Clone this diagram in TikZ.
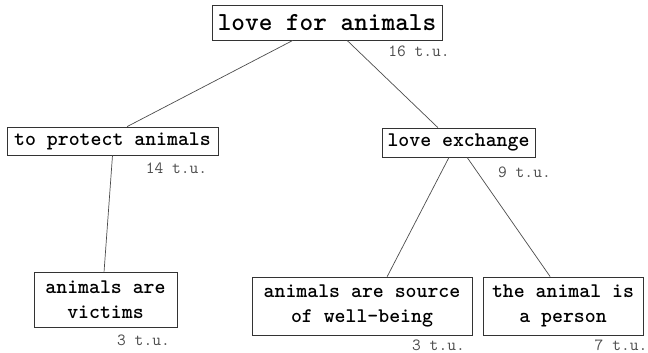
\documentclass[tikz,border=0pt]{standalone}
\usetikzlibrary{calc}
\begin{document}
\begin{tikzpicture}[x=1pt, y=-1pt,
  box/.style={draw=black!80, line width=0.8pt, inner sep=0pt, align=center,
              font=\ttfamily\bfseries\fontsize{20.8}{25}\selectfont},
  tu/.style={text=black!70, inner sep=0pt, font=\ttfamily\fontsize{17}{18}\selectfont},
  link/.style={draw=black!70, line width=0.7pt}]
\useasboundingbox (0,0) rectangle (648,353);

% concept boxes
\node[box, minimum width=230pt, minimum height=35pt,
      font=\ttfamily\bfseries\fontsize{26}{30}\selectfont] (root) at (327,22.5) {love for animals};
\node[box, minimum width=211pt, minimum height=28pt] (protect) at (112.5,141) {to protect animals};
\node[box, minimum width=153pt, minimum height=29pt] (exchange) at (458.5,142.5) {love exchange};
\node[box, minimum width=143pt, minimum height=55pt] (victims) at (105.5,299.5) {animals are\\victims};
\node[box, minimum width=220pt, minimum height=58pt] (source) at (362,306) {animals are source\\of well-being};
\node[box, minimum width=160pt, minimum height=58pt] (person) at (563,306) {the animal is\\a person};

% time units
\node[tu] (t16) at (419,51) {16 t.u.};
\node[tu] (t14) at (176.5,168) {14 t.u.};
\node[tu] (t9) at (524.5,172) {9 t.u.};
\node[tu] (t3a) at (143.5,340) {3 t.u.};
\node[tu] (t3b) at (438.5,345) {3 t.u.};
\node[tu] (t7) at (621,345) {7 t.u.};

% tree links
\draw[link] ($(root.south west)!0.352!(root.south east)$) -- ($(protect.north west)!0.569!(protect.north east)$);
\draw[link] ($(root.south west)!0.587!(root.south east)$) -- ($(exchange.north west)!0.366!(exchange.north east)$);
\draw[link] ($(protect.south west)!0.5!(protect.south east)$) -- ($(victims.north west)!0.49!(victims.north east)$);
\draw[link] ($(exchange.south west)!0.438!(exchange.south east)$) -- ($(source.north west)!0.614!(source.north east)$);
\draw[link] ($(exchange.south west)!0.556!(exchange.south east)$) -- ($(person.north west)!0.42!(person.north east)$);
\end{tikzpicture}
\end{document}
